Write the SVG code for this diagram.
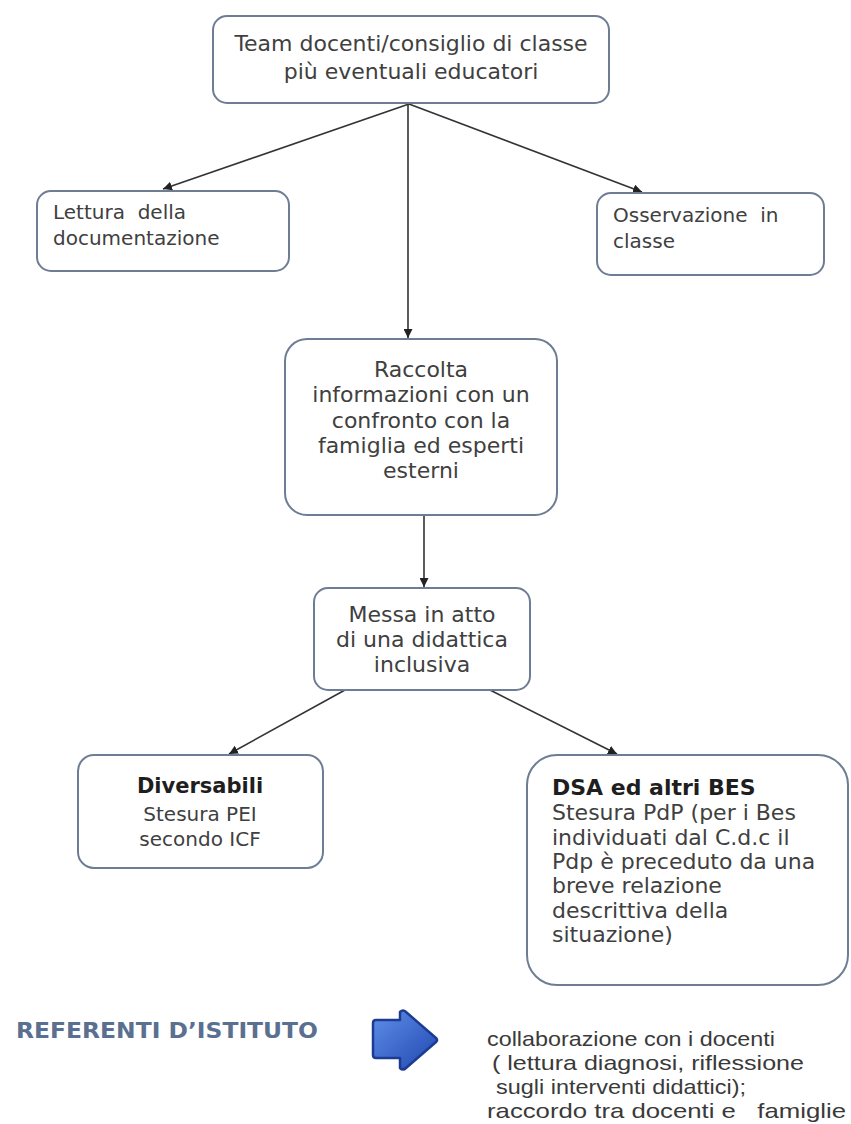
<svg xmlns="http://www.w3.org/2000/svg" width="851" height="1124" viewBox="0 0 851 1124">
<defs>
<style>
.box{fill:#ffffff;stroke:#6e7d93;stroke-width:2}
.t{font-family:"DejaVu Sans",Verdana,sans-serif;fill:#404040}
.c{text-anchor:middle}
.b{font-weight:bold;fill:#1e1e1e}
.edge{stroke:#333333;stroke-width:1.6;fill:none;marker-end:url(#ah)}
.ref{font-family:"DejaVu Sans Condensed","DejaVu Sans",sans-serif;font-weight:bold;fill:#5a7090}
.note{font-family:"Liberation Sans",Arial,sans-serif;fill:#3a3a3a;font-size:21px}
</style>
<marker id="ah" viewBox="0 0 10 10" refX="10" refY="5" markerWidth="9" markerHeight="9" markerUnits="userSpaceOnUse" orient="auto">
<path d="M0,0 L10,5 L0,10 z" fill="#222222"/>
</marker>
<linearGradient id="bg" x1="0" y1="0" x2="1" y2="1">
<stop offset="0" stop-color="#5f8fe8"/>
<stop offset="1" stop-color="#2047b0"/>
</linearGradient>
</defs>
<rect width="851" height="1124" fill="#ffffff"/>

<g id="connectors">
<line class="edge" x1="409" y1="104" x2="163" y2="189"/>
<line class="edge" x1="409" y1="104" x2="642" y2="192"/>
<line class="edge" x1="408" y1="104" x2="408" y2="338"/>
<line class="edge" x1="424" y1="515" x2="424" y2="587"/>
<line class="edge" x1="345" y1="690" x2="229" y2="754"/>
<line class="edge" x1="490" y1="690" x2="617" y2="754"/>
</g>

<g id="team">
<rect class="box" x="213" y="16" width="396" height="87" rx="14"/>
<text class="t c" x="411" y="51" font-size="22">Team docenti/consiglio di classe</text>
<text class="t c" x="411" y="79" font-size="22">più eventuali educatori</text>
</g>

<g id="lettura">
<rect class="box" x="37" y="191" width="252" height="80" rx="14"/>
<text class="t" x="53" y="219" font-size="20" xml:space="preserve">Lettura  della</text>
<text class="t" x="53" y="245" font-size="20">documentazione</text>
</g>

<g id="osservazione">
<rect class="box" x="597" y="193" width="227" height="82" rx="14"/>
<text class="t" x="613" y="222" font-size="20" xml:space="preserve">Osservazione  in</text>
<text class="t" x="613" y="248" font-size="20">classe</text>
</g>

<g id="raccolta">
<rect class="box" x="285" y="339" width="272" height="176" rx="22"/>
<text class="t c" x="421" y="377" font-size="22">Raccolta</text>
<text class="t c" x="421" y="402" font-size="22">informazioni con un</text>
<text class="t c" x="421" y="428" font-size="22">confronto con la</text>
<text class="t c" x="421" y="453" font-size="22">famiglia ed esperti</text>
<text class="t c" x="421" y="478" font-size="22">esterni</text>
</g>

<g id="messa">
<rect class="box" x="314" y="588" width="216" height="102" rx="14"/>
<text class="t c" x="422" y="622" font-size="22">Messa in atto</text>
<text class="t c" x="422" y="647" font-size="22">di una didattica</text>
<text class="t c" x="422" y="672" font-size="22">inclusiva</text>
</g>

<g id="diversabili">
<rect class="box" x="78" y="755" width="245" height="113" rx="16"/>
<text class="t c b" x="200" y="793" font-size="21">Diversabili</text>
<text class="t c" x="200" y="821" font-size="20">Stesura PEI</text>
<text class="t c" x="200" y="846" font-size="20">secondo ICF</text>
</g>

<g id="dsa">
<rect class="box" x="527" y="755" width="321" height="230" rx="30"/>
<text class="t b" x="552" y="795" font-size="22">DSA ed altri BES</text>
<text class="t" x="552" y="820" font-size="22">Stesura PdP (per i Bes</text>
<text class="t" x="552" y="845" font-size="22">individuati dal C.d.c il</text>
<text class="t" x="552" y="869" font-size="22">Pdp è preceduto da una</text>
<text class="t" x="552" y="893" font-size="22">breve relazione</text>
<text class="t" x="552" y="918" font-size="22">descrittiva della</text>
<text class="t" x="552" y="942" font-size="22">situazione)</text>
</g>

<g id="referenti">
<text class="ref" x="16" y="1038" font-size="21" textLength="302" lengthAdjust="spacingAndGlyphs">REFERENTI D’ISTITUTO</text>
</g>

<g id="blue-arrow">
<path d="M376,1020 L400,1020 L400,1012 Q403,1009 406,1012 L436,1038 Q438,1040 436,1042 L406,1068 Q403,1071 400,1068 L400,1058 L376,1058 Q373,1058 373,1055 L373,1023 Q373,1020 376,1020 Z" fill="url(#bg)" stroke="#1c3c94" stroke-width="2.5" stroke-linejoin="round"/>
</g>

<g id="referenti-note">
<text class="note" x="487" y="1046" textLength="288" lengthAdjust="spacingAndGlyphs">collaborazione con i docenti</text>
<text class="note" x="492" y="1070" textLength="312" lengthAdjust="spacingAndGlyphs">( lettura diagnosi, riflessione</text>
<text class="note" x="496" y="1094" textLength="250" lengthAdjust="spacingAndGlyphs">sugli interventi didattici);</text>
<text class="note" x="487" y="1118" textLength="359" lengthAdjust="spacingAndGlyphs" xml:space="preserve">raccordo tra docenti e   famiglie</text>
</g>
</svg>
